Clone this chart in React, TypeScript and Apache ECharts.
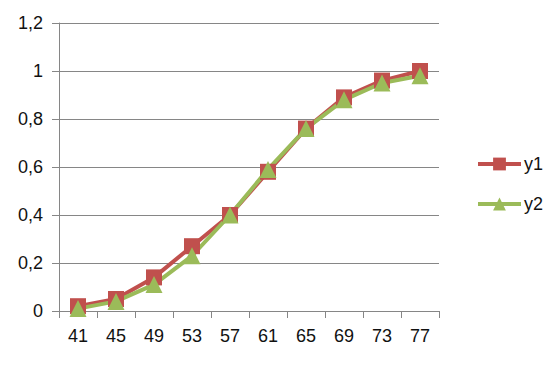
import React, { useEffect, useRef } from "react";
import * as echarts from "echarts";

const categories = ["41", "45", "49", "53", "57", "61", "65", "69", "73", "77"];
const y1 = [0.02, 0.05, 0.14, 0.27, 0.4, 0.58, 0.76, 0.89, 0.96, 1.0];
const y2 = [0.01, 0.04, 0.11, 0.23, 0.4, 0.59, 0.76, 0.88, 0.95, 0.98];
const seriesNames = ["y1", "y2"];

const FONT = "'Liberation Sans', Arial, sans-serif";
const TXT = "#111";

export default function App() {
  const ref = useRef<HTMLDivElement>(null);
  useEffect(() => {
    if (!ref.current) return;
    const chart = echarts.init(ref.current, undefined, { renderer: "svg" });
    chart.setOption({
      animation: false,
      backgroundColor: "#ffffff",
      textStyle: { fontFamily: FONT },
      grid: { left: 59, top: 23, width: 380, height: 288, containLabel: false },
      legend: {
        orient: "vertical",
        left: 471,
        top: 150,
        itemWidth: 43,
        itemHeight: 16,
        itemGap: 22,
        lineStyle: { width: 4 },
        textStyle: { fontSize: 18, color: TXT, fontFamily: FONT, padding: [0, 0, 0, -2] },
        data: seriesNames,
      },
      xAxis: {
        type: "category",
        data: categories,
        boundaryGap: true,
        axisLine: { lineStyle: { color: "#868686", width: 1 } },
        axisTick: { show: true, length: 7, lineStyle: { color: "#868686" } },
        axisLabel: { fontSize: 18, color: TXT, margin: 16, fontFamily: FONT },
        splitLine: { show: false },
      },
      yAxis: {
        type: "value",
        min: 0,
        max: 1.2,
        interval: 0.2,
        axisLine: { show: true, lineStyle: { color: "#868686", width: 1 } },
        axisTick: { show: true, length: 7, lineStyle: { color: "#868686" } },
        axisLabel: {
          fontSize: 18,
          color: TXT,
          margin: 16,
          fontFamily: FONT,
          formatter: (v: number) => String(Math.round(v * 10) / 10).replace(".", ","),
        },
        splitLine: { show: true, lineStyle: { color: "#868686", width: 1 } },
      },
      series: [
        {
          name: seriesNames[0],
          type: "line",
          data: y1,
          symbol: "rect",
          symbolSize: 16,
          color: "#C0504D",
          lineStyle: { color: "#C0504D", width: 4 },
          itemStyle: { color: "#C0504D" },
        },
        {
          name: seriesNames[1],
          type: "line",
          data: y2,
          symbol: "triangle",
          symbolSize: 17,
          color: "#9BBB59",
          lineStyle: { color: "#9BBB59", width: 4 },
          itemStyle: { color: "#9BBB59" },
        },
      ],
    });
    return () => chart.dispose();
  }, []);
  return <div ref={ref} style={{ width: 558, height: 365, position: "absolute", left: 0, top: 0 }} />;
}
